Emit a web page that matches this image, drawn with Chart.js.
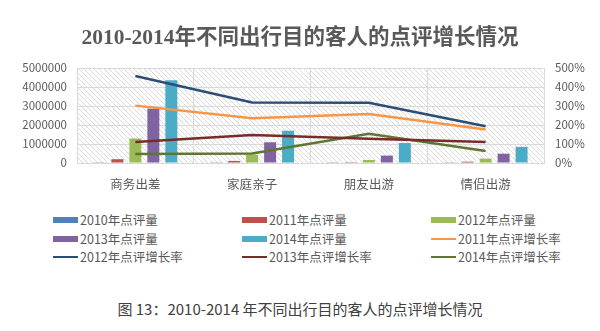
<!DOCTYPE html>
<html><head><meta charset="utf-8">
<script src="https://cdn.jsdelivr.net/npm/chart.js@4"></script>
<style>
body{margin:0;width:600px;height:331px;background:#fff;position:relative;overflow:hidden;font-family:"Noto Sans CJK SC",sans-serif;}
#c{position:absolute;left:0;top:0;}
#legend{position:absolute;left:53px;top:211px;display:grid;grid-template-columns:189px 189px 160px;grid-auto-rows:18.5px;}
.item{display:flex;align-items:center;font-size:12.5px;color:#595959;white-space:nowrap;line-height:18px}
.sw{width:25px;height:6px;margin-right:2px;flex:none}
.ln{width:25px;height:2px;margin-right:2px;flex:none}
#cap{position:absolute;left:0;width:600px;top:299px;text-align:center;font-size:15px;color:#404040;line-height:20px}
</style>
</head><body>
<canvas id="c" width="600" height="200"></canvas>
<div id="legend"></div>
<div id="cap">图 13：2010-2014 年不同出行目的客人的点评增长情况</div>
<script>
const categories = ['商务出差','家庭亲子','朋友出游','情侣出游'];
const reviews2010 = [40000, 40000, 40000, 40000];
const reviews2011 = [200000, 110000, 45000, 70000];
const reviews2012 = [1290000, 440000, 160000, 230000];
const reviews2013 = [2860000, 1090000, 390000, 490000];
const reviews2014 = [4360000, 1700000, 1050000, 850000];
const growth2011 = [302, 235, 258, 176];
const growth2012 = [458, 319, 317, 193];
const growth2013 = [111, 147, 128, 110];
const growth2014 = [48, 50, 154, 63];
const leftTicks = [0, 1000000, 2000000, 3000000, 4000000, 5000000];
const rightTicks = [0, 100, 200, 300, 400, 500];
const titleText = '2010-2014年不同出行目的客人的点评增长情况';

const barSeries = [
  {label:'2010年点评量', data:reviews2010, color:'#4F81BD'},
  {label:'2011年点评量', data:reviews2011, color:'#C0504D'},
  {label:'2012年点评量', data:reviews2012, color:'#9BBB59'},
  {label:'2013年点评量', data:reviews2013, color:'#8064A2'},
  {label:'2014年点评量', data:reviews2014, color:'#4BACC6'}
];
const lineSeries = [
  {label:'2011年点评增长率', data:growth2011, color:'#F79646'},
  {label:'2012年点评增长率', data:growth2012, color:'#2C4D75'},
  {label:'2013年点评增长率', data:growth2013, color:'#772C2A'},
  {label:'2014年点评增长率', data:growth2014, color:'#5F7530'}
];

const datasets = [];
barSeries.forEach(s => datasets.push({
  type:'bar', label:s.label, data:s.data, backgroundColor:s.color,
  borderColor:s.color, borderWidth:0, yAxisID:'y', order:2,
  categoryPercentage:0.77, barPercentage:0.667
}));
lineSeries.forEach(s => datasets.push({
  type:'line', label:s.label, data:s.data, borderColor:s.color, backgroundColor:s.color,
  borderWidth:2.5, pointRadius:0, tension:0, yAxisID:'y1', order:1
}));

function makePattern(){
  const p = document.createElement('canvas');
  p.width = 5; p.height = 5;
  const g = p.getContext('2d');
  g.fillStyle = '#ffffff'; g.fillRect(0,0,5,5);
  g.strokeStyle = '#d9d9d9'; g.lineWidth = 1;
  g.beginPath();
  g.moveTo(-1,-1); g.lineTo(6,6);
  g.moveTo(-1,4); g.lineTo(1,6);
  g.moveTo(4,-1); g.lineTo(6,1);
  g.stroke();
  return g.createPattern(p,'repeat');
}

const hatch = {
  id:'hatch',
  beforeDraw(chart){
    const {ctx, chartArea:a} = chart;
    ctx.save();
    ctx.fillStyle = makePattern();
    ctx.fillRect(a.left, a.top, a.right-a.left, a.bottom-a.top);
    ctx.restore();
  }
};

const fontFam = '"Noto Sans CJK SC", "Noto Sans", sans-serif';
new Chart(document.getElementById('c'), {
  data:{labels:categories, datasets},
  plugins:[hatch],
  options:{
    responsive:false, animation:false,
    layout:{padding:0},
    plugins:{
      legend:{display:false},
      tooltip:{enabled:false},
      title:{display:true, text:titleText, color:'#595959',
        font:{size:21.5, weight:'bold', family:'"Liberation Serif", "Noto Sans CJK SC", serif', lineHeight:25/21.5},
        padding:{top:26, bottom:17}}
    },
    scales:{
      x:{
        grid:{color:'#d9d9d9', drawTicks:false, offset:true},
        border:{color:'#d9d9d9'},
        ticks:{padding:14, color:'#595959', font:{size:12.5, family:fontFam}},
        afterFit(s){ s.height = 37; }
      },
      y:{
        position:'left', min:0, max:5000000,
        grid:{color:'#d9d9d9', drawTicks:false},
        border:{display:false},
        afterBuildTicks(s){ s.ticks = leftTicks.map(v=>({value:v})); },
        ticks:{padding:10, color:'#595959', font:{size:11.5, family:fontFam}, callback:v=>String(v)},
        afterFit(s){ s.width = 77; }
      },
      y1:{
        position:'right', min:0, max:500,
        grid:{display:false, drawTicks:false},
        border:{display:false},
        afterBuildTicks(s){ s.ticks = rightTicks.map(v=>({value:v})); },
        ticks:{padding:11, color:'#595959', font:{size:11.5, family:fontFam}, callback:v=>v+'%'},
        afterFit(s){ s.width = 56; }
      }
    }
  }
});

const legend = document.getElementById('legend');
const legendItems = [...barSeries.map(s=>({...s,bar:true})), ...lineSeries.map(s=>({...s,bar:false}))];
legendItems.forEach(it => {
  const d = document.createElement('div'); d.className = 'item';
  const sw = document.createElement('span'); sw.className = it.bar ? 'sw' : 'ln';
  sw.style.background = it.color;
  const t = document.createElement('span'); t.textContent = it.label;
  d.appendChild(sw); d.appendChild(t); legend.appendChild(d);
});
</script>
</body></html>
